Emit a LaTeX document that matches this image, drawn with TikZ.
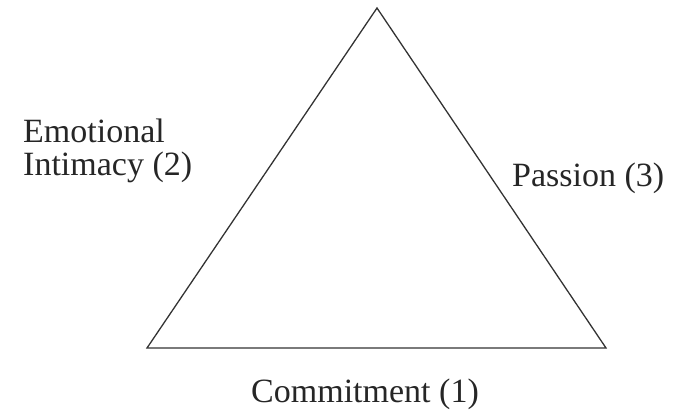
\documentclass[tikz,border=0pt]{standalone}
\usepackage{fontspec}
\setmainfont{Liberation Serif}
\usepackage{tikz}

\begin{document}
\begin{tikzpicture}[x=1pt,y=-1pt,
    side/.style={draw=black!80,line width=1.3pt,line join=miter},
    lbl/.style={inner sep=0pt,font=\fontsize{34}{33}\selectfont,text=black!85}]
    \useasboundingbox (0,0) rectangle (677,410);
    \coordinate (apex) at (377,8);
    \coordinate (left) at (147,348);
    \coordinate (right) at (606,348);
    \draw[side] (left) -- (apex) -- (right) -- cycle;
    \node[lbl,anchor=base west,align=left] (intimacy) at (23,175) {Emotional\\Intimacy (2)};
    \node[lbl,anchor=base west] (passion) at (512,186) {Passion (3)};
    \node[lbl,anchor=base] (commit) at (365,402) {Commitment (1)};
\end{tikzpicture}
\end{document}
